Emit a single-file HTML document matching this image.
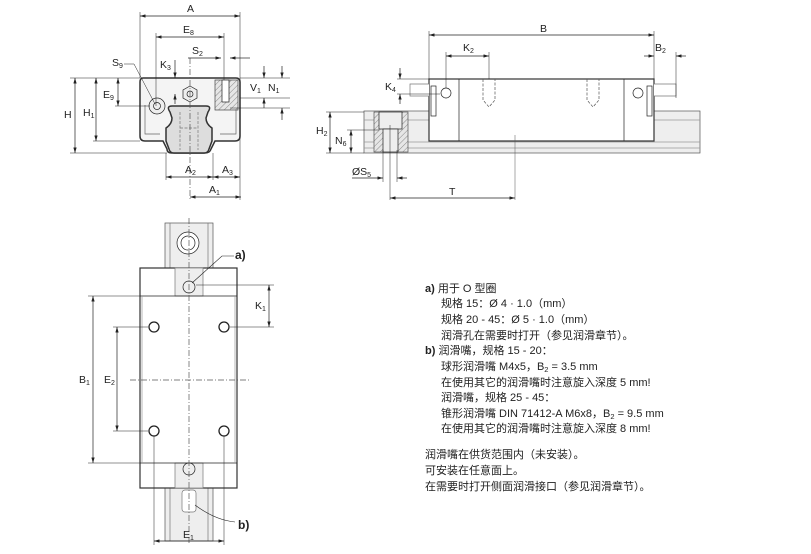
<!DOCTYPE html>
<html><head><meta charset="utf-8"><style>
html,body{margin:0;padding:0;background:#fff;width:811px;height:554px;overflow:hidden}
svg text{font-family:"Liberation Sans","Noto Sans CJK SC",sans-serif;fill:#222}
.n{font-size:10.5px}
</style></head><body>
<svg width="811" height="554" viewBox="0 0 811 554" xmlns="http://www.w3.org/2000/svg">
<defs>
<marker id="a" viewBox="0 0 10 6" refX="10" refY="3" markerWidth="8" markerHeight="5" orient="auto-start-reverse"><path d="M0,0L10,3L0,6z" fill="#222"/></marker>
<pattern id="h" width="4" height="4" patternUnits="userSpaceOnUse" patternTransform="rotate(45)"><rect width="4" height="4" fill="#e6e6e6"/><line x1="0" y1="0" x2="0" y2="4" stroke="#888" stroke-width="1"/></pattern>
</defs>
<g stroke="#222" stroke-width="0.7" fill="none">
<!-- ===== FRONT VIEW ===== -->
<path d="M143,78 H236 Q240,78 240,82 V136 Q240,141 235,141 H215 L211,149 Q210,153 205,153 H172 Q167,153 167,149 L163,141 H145 Q140,141 140,136 V82 Q140,78 143,78Z" fill="#f4f4f4" stroke="#333" stroke-width="1.5"/>
<path d="M170,112 Q166,106 172,106 H206 Q212,106 208,112 L206,118 Q206,124 212,128 V141 L209,149 Q208,153 204,153 H174 Q170,153 169,149 L166,141 V128 Q172,124 172,118Z" fill="#ddd" stroke="#333" stroke-width="1.5"/>
<path d="M180,112 V150 M198,112 V150 M180,128 H198" stroke="#777" stroke-dasharray="3,1.5"/>
<path d="M145,105 V134 H160 M236,105 V134 H220" stroke="#666"/>
<rect x="215" y="80" width="23" height="30" fill="url(#h)" stroke="#444"/>
<rect x="222" y="80" width="7" height="22" fill="#fff"/>
<circle cx="157" cy="106" r="8" fill="#eee"/><circle cx="157" cy="106" r="3.5"/>
<polygon points="190,86 197,90 197,98 190,102 183,98 183,90" fill="#eee"/><circle cx="190" cy="94" r="3"/>
<line x1="190" y1="58" x2="190" y2="200" stroke-dasharray="6,2,1,2" stroke="#555"/>
<!-- dims front -->
<line x1="140" y1="12" x2="140" y2="78" stroke-width="0.5"/><line x1="240" y1="12" x2="240" y2="200" stroke-width="0.5"/>
<line x1="140" y1="16" x2="240" y2="16" marker-start="url(#a)" marker-end="url(#a)"/>
<line x1="156" y1="33" x2="156" y2="106" stroke-width="0.5"/><line x1="224" y1="33" x2="224" y2="80" stroke-width="0.5"/>
<line x1="156" y1="37" x2="224" y2="37" marker-start="url(#a)" marker-end="url(#a)"/>
<line x1="188" y1="58" x2="221" y2="58" marker-end="url(#a)"/><line x1="240" y1="58" x2="250" y2="58"/><line x1="240" y1="58" x2="230" y2="58" marker-end="url(#a)"/>
<line x1="175" y1="60" x2="175" y2="78" marker-end="url(#a)"/><line x1="175" y1="104" x2="175" y2="94" marker-end="url(#a)"/>
<line x1="70" y1="78" x2="140" y2="78" stroke-width="0.5"/><line x1="70" y1="153" x2="167" y2="153" stroke-width="0.5"/>
<line x1="75" y1="78" x2="75" y2="153" marker-start="url(#a)" marker-end="url(#a)"/>
<line x1="93" y1="141" x2="140" y2="141" stroke-width="0.5"/>
<line x1="96" y1="78" x2="96" y2="141" marker-start="url(#a)" marker-end="url(#a)"/>
<line x1="118" y1="78" x2="118" y2="106" marker-start="url(#a)" marker-end="url(#a)"/><line x1="115" y1="106" x2="150" y2="106" stroke-width="0.5"/>
<line x1="240" y1="98" x2="290" y2="98" stroke-width="0.5"/><line x1="240" y1="78" x2="290" y2="78" stroke-width="0.5"/><line x1="230" y1="108" x2="290" y2="108" stroke-width="0.5"/>
<line x1="264" y1="66" x2="264" y2="78" marker-end="url(#a)"/><line x1="264" y1="108" x2="264" y2="98" marker-end="url(#a)"/>
<line x1="282" y1="66" x2="282" y2="78" marker-end="url(#a)"/><line x1="282" y1="120" x2="282" y2="108" marker-end="url(#a)"/>
<line x1="166" y1="153" x2="166" y2="180" stroke-width="0.5"/><line x1="213" y1="153" x2="213" y2="180" stroke-width="0.5"/>
<line x1="166" y1="177" x2="213" y2="177" marker-start="url(#a)" marker-end="url(#a)"/>
<line x1="213" y1="177" x2="240" y2="177" marker-start="url(#a)" marker-end="url(#a)"/>
<line x1="190" y1="197" x2="241" y2="197" marker-start="url(#a)" marker-end="url(#a)"/>
<path d="M124,64 H134 L155,104" stroke-width="0.5"/>
<!-- ===== SIDE VIEW ===== -->
<rect x="364" y="111" width="336" height="42" fill="#eee" stroke="#555"/>
<line x1="364" y1="120" x2="700" y2="120" stroke="#999"/><line x1="364" y1="142" x2="700" y2="142" stroke="#999"/><line x1="364" y1="148" x2="700" y2="148" stroke="#999"/>
<rect x="374" y="112" width="34" height="40" fill="url(#h)" stroke="#555"/>
<rect x="379" y="112" width="23" height="17" fill="#eee"/><rect x="383" y="129" width="15" height="23" fill="#eee"/>
<rect x="429" y="79" width="225" height="62" fill="#fff" stroke="#333" stroke-width="1.2"/>
<line x1="459" y1="79" x2="459" y2="141"/><line x1="624" y1="79" x2="624" y2="141"/>
<rect x="431" y="86" width="5" height="30" fill="#fff"/><rect x="647" y="86" width="5" height="30" fill="#fff"/>
<path d="M429,84 H410 V96 H429 M654,84 H676 V96 H654" fill="#fff" stroke="#777"/>
<circle cx="446" cy="93" r="5"/><circle cx="638" cy="93" r="5"/>
<path d="M483,79 V100 L489,107 L495,100 V79 M587,79 V100 L593,107 L599,100 V79" stroke-dasharray="3,1.5" stroke="#555"/>
<line x1="515" y1="135" x2="515" y2="200" stroke="#555" stroke-width="0.5"/>
<line x1="390" y1="125" x2="390" y2="200" stroke-width="0.5"/>
<line x1="429" y1="31" x2="429" y2="79" stroke-width="0.5"/><line x1="654" y1="31" x2="654" y2="79" stroke-width="0.5"/>
<line x1="429" y1="35" x2="654" y2="35" marker-start="url(#a)" marker-end="url(#a)"/>
<line x1="446" y1="52" x2="446" y2="88" stroke-width="0.5"/><line x1="489" y1="52" x2="489" y2="79" stroke-width="0.5"/>
<line x1="446" y1="56" x2="489" y2="56" marker-start="url(#a)" marker-end="url(#a)"/>
<line x1="676" y1="52" x2="676" y2="98" stroke-width="0.5"/>
<line x1="644" y1="56" x2="654" y2="56" marker-end="url(#a)"/><line x1="686" y1="56" x2="676" y2="56" marker-end="url(#a)"/>
<line x1="397" y1="79" x2="429" y2="79" stroke-width="0.5"/><line x1="397" y1="94" x2="440" y2="94" stroke-width="0.5"/>
<line x1="400" y1="68" x2="400" y2="79" marker-end="url(#a)"/><line x1="400" y1="104" x2="400" y2="94" marker-end="url(#a)"/>
<line x1="326" y1="112" x2="364" y2="112" stroke-width="0.5"/><line x1="326" y1="153" x2="364" y2="153" stroke-width="0.5"/>
<line x1="330" y1="112" x2="330" y2="153" marker-start="url(#a)" marker-end="url(#a)"/>
<line x1="347" y1="130" x2="379" y2="130" stroke-width="0.5"/>
<line x1="351" y1="130" x2="351" y2="153" marker-start="url(#a)" marker-end="url(#a)"/>
<line x1="383" y1="150" x2="383" y2="182" stroke-width="0.5"/><line x1="397" y1="150" x2="397" y2="182" stroke-width="0.5"/>
<line x1="352" y1="178" x2="383" y2="178" marker-end="url(#a)"/><line x1="407" y1="178" x2="397" y2="178" marker-end="url(#a)"/>
<line x1="390" y1="198" x2="515" y2="198" marker-start="url(#a)" marker-end="url(#a)"/>
<!-- ===== TOP VIEW ===== -->
<rect x="165" y="223" width="48" height="318" fill="#eee" stroke="#555"/>
<line x1="170" y1="223" x2="170" y2="541" stroke="#777"/><line x1="208" y1="223" x2="208" y2="541" stroke="#777"/>
<circle cx="188" cy="243" r="11" fill="#fff"/><circle cx="188" cy="243" r="7"/>
<rect x="140" y="268" width="97" height="220" fill="#fff" stroke="#333" stroke-width="1.2"/>
<rect x="175" y="268" width="28" height="28" fill="#eee" stroke="#777"/><rect x="175" y="463" width="28" height="25" fill="#eee" stroke="#777"/>
<line x1="140" y1="296" x2="237" y2="296"/><line x1="140" y1="463" x2="237" y2="463"/>
<line x1="142" y1="296" x2="142" y2="463" stroke="#999"/><line x1="235" y1="296" x2="235" y2="463" stroke="#999"/>
<circle cx="189" cy="287" r="6"/><circle cx="189" cy="469" r="6"/>
<circle cx="154" cy="327" r="5" stroke-width="1.3"/><circle cx="224" cy="327" r="5" stroke-width="1.3"/>
<circle cx="154" cy="431" r="5" stroke-width="1.3"/><circle cx="224" cy="431" r="5" stroke-width="1.3"/>
<rect x="182" y="490" width="14" height="22" rx="3" fill="#fff" stroke="#777"/>
<line x1="189" y1="218" x2="189" y2="545" stroke-dasharray="6,2,1,2" stroke="#555"/>
<line x1="130" y1="380" x2="250" y2="380" stroke-dasharray="6,2,1,2" stroke="#555"/>
<line x1="88" y1="296" x2="140" y2="296" stroke-width="0.5"/><line x1="88" y1="463" x2="140" y2="463" stroke-width="0.5"/>
<line x1="93" y1="296" x2="93" y2="463" marker-start="url(#a)" marker-end="url(#a)"/>
<line x1="113" y1="327" x2="148" y2="327" stroke-width="0.5"/><line x1="113" y1="431" x2="148" y2="431" stroke-width="0.5"/>
<line x1="117" y1="327" x2="117" y2="431" marker-start="url(#a)" marker-end="url(#a)"/>
<line x1="196" y1="285" x2="274" y2="285" stroke-width="0.5"/><line x1="230" y1="327" x2="274" y2="327" stroke-width="0.5"/>
<line x1="269" y1="285" x2="269" y2="327" marker-start="url(#a)" marker-end="url(#a)"/>
<line x1="154" y1="436" x2="154" y2="545" stroke-width="0.5"/><line x1="224" y1="436" x2="224" y2="545" stroke-width="0.5"/>
<line x1="154" y1="541" x2="224" y2="541" marker-start="url(#a)" marker-end="url(#a)"/>
<path d="M192,283 L222,256 H234 M195,505 Q215,520 235,522" stroke-width="0.6"/>
</g>
<!-- labels -->
<g class="n">
<text x="187" y="12">A</text><text x="183" y="33">E<tspan font-size="7" dy="2">8</tspan></text>
<text x="192" y="54">S<tspan font-size="7" dy="2">2</tspan></text><text x="160" y="68">K<tspan font-size="7" dy="2">3</tspan></text>
<text x="112" y="66">S<tspan font-size="7" dy="2">9</tspan></text>
<text x="64" y="118">H</text><text x="83" y="116">H<tspan font-size="7" dy="2">1</tspan></text>
<text x="103" y="98">E<tspan font-size="7" dy="2">9</tspan></text>
<text x="250" y="91">V<tspan font-size="7" dy="2">1</tspan></text><text x="268" y="91">N<tspan font-size="7" dy="2">1</tspan></text>
<text x="185" y="173">A<tspan font-size="7" dy="2">2</tspan></text><text x="222" y="173">A<tspan font-size="7" dy="2">3</tspan></text>
<text x="209" y="193">A<tspan font-size="7" dy="2">1</tspan></text>
<text x="540" y="32">B</text><text x="463" y="51">K<tspan font-size="7" dy="2">2</tspan></text>
<text x="655" y="51">B<tspan font-size="7" dy="2">2</tspan></text>
<text x="385" y="90">K<tspan font-size="7" dy="2">4</tspan></text>
<text x="316" y="134">H<tspan font-size="7" dy="2">2</tspan></text><text x="335" y="144">N<tspan font-size="7" dy="2">6</tspan></text>
<text x="352" y="175">ØS<tspan font-size="7" dy="2">5</tspan></text><text x="449" y="195">T</text>
<text x="79" y="383">B<tspan font-size="7" dy="2">1</tspan></text><text x="104" y="383">E<tspan font-size="7" dy="2">2</tspan></text>
<text x="255" y="309">K<tspan font-size="7" dy="2">1</tspan></text><text x="183" y="538">E<tspan font-size="7" dy="2">1</tspan></text>
<text x="235" y="259" font-weight="bold" font-size="12">a)</text><text x="238" y="529" font-weight="bold" font-size="12">b)</text>
</g>
<g font-size="11">
<text x="425" y="292"><tspan font-weight="bold">a)</tspan> 用于 O 型圈</text>
<text x="441" y="307">规格 15：Ø 4 · 1.0（mm）</text>
<text x="441" y="323">规格 20 - 45：Ø 5 · 1.0（mm）</text>
<text x="441" y="339">润滑孔在需要时打开（参见润滑章节）。</text>
<text x="425" y="354"><tspan font-weight="bold">b)</tspan> 润滑嘴，规格 15 - 20：</text>
<text x="441" y="370">球形润滑嘴 M4x5，B<tspan font-size="7.5" dy="2">2</tspan><tspan dy="-2"> = 3.5 mm</tspan></text>
<text x="441" y="386">在使用其它的润滑嘴时注意旋入深度 5 mm!</text>
<text x="441" y="401">润滑嘴，规格 25 - 45：</text>
<text x="441" y="417">锥形润滑嘴 DIN 71412-A M6x8，B<tspan font-size="7.5" dy="2">2</tspan><tspan dy="-2"> = 9.5 mm</tspan></text>
<text x="441" y="432">在使用其它的润滑嘴时注意旋入深度 8 mm!</text>
<text x="425" y="458">润滑嘴在供货范围内（未安装）。</text>
<text x="425" y="474">可安装在任意面上。</text>
<text x="425" y="490">在需要时打开侧面润滑接口（参见润滑章节）。</text>
</g>
</svg>
</body></html>
